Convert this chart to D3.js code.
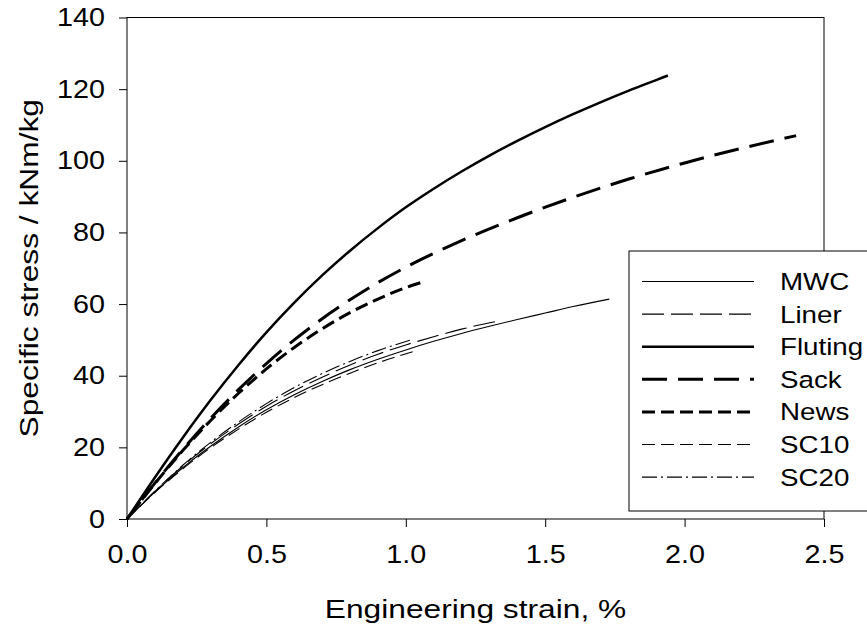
<!DOCTYPE html>
<html lang="en">
<head>
<meta charset="utf-8">
<title>Specific stress vs engineering strain</title>
<style>
    body { margin: 0; background: #fff; font-family: "Liberation Sans", Arial, sans-serif; }
    svg text { font-family: "Liberation Sans", Arial, sans-serif; fill: #000; }
</style>
<script src="https://d3js.org/d3.v7.min.js"></script>
</head>
<body>
<div class="chart"></div>
<script>
// values (strain in %, stress in kNm/kg)
const seriesNames = ["MWC", "Liner", "Fluting", "Sack", "News", "SC10", "SC20"];

const mwcStrain = [0, 0.1, 0.2, 0.3, 0.4, 0.5, 0.6, 0.7, 0.8, 0.9, 1.0, 1.1, 1.2, 1.3, 1.4, 1.5, 1.6, 1.73];
const mwcStress = [0, 7.5, 14.3, 20.3, 25.7, 30.5, 34.7, 38.4, 41.7, 44.6, 47.2, 49.6, 51.8, 53.8, 55.7, 57.5, 59.3, 61.4];

const linerStrain = [0, 0.1, 0.2, 0.3, 0.4, 0.5, 0.6, 0.7, 0.8, 0.9, 1.0, 1.1, 1.2, 1.34];
const linerStress = [0, 7.7, 14.8, 21.0, 26.5, 31.5, 35.8, 39.6, 43.0, 46.0, 48.6, 50.9, 53.0, 55.4];

const flutingStrain = [0, 0.1, 0.2, 0.3, 0.4, 0.5, 0.6, 0.7, 0.8, 0.9, 1.0, 1.1, 1.2, 1.3, 1.4, 1.5, 1.6, 1.7, 1.8, 1.9, 1.94];
const flutingStress = [0, 11.6, 22.7, 33.2, 43.0, 52.1, 60.4, 68.0, 74.9, 81.2, 87.0, 92.2, 97.0, 101.45, 105.55, 109.4, 113.0, 116.4, 119.6, 122.6, 123.8];

const sackStrain = [0, 0.1, 0.2, 0.3, 0.4, 0.5, 0.6, 0.7, 0.8, 0.9, 1.0, 1.2, 1.4, 1.6, 1.8, 2.0, 2.2, 2.4];
const sackStress = [0, 10.0, 19.4, 28.1, 36.1, 43.4, 50.0, 55.9, 61.2, 66.0, 70.3, 77.7, 84.1, 89.8, 94.9, 99.4, 103.4, 107.0];

const newsStrain = [0, 0.1, 0.2, 0.3, 0.4, 0.5, 0.6, 0.7, 0.8, 0.9, 1.0, 1.054];
const newsStress = [0, 9.9, 19.1, 27.5, 35.1, 41.9, 47.9, 53.1, 57.6, 61.4, 64.6, 66.0];

const sc10Strain = [0, 0.1, 0.2, 0.3, 0.4, 0.5, 0.6, 0.7, 0.8, 0.9, 1.03];
const sc10Stress = [0, 7.4, 14.0, 19.9, 25.1, 29.8, 33.9, 37.5, 40.7, 43.6, 46.8];

const sc20Strain = [0, 0.1, 0.2, 0.3, 0.4, 0.5, 0.6, 0.7, 0.8, 0.9, 1.02];
const sc20Stress = [0, 7.8, 15.0, 21.4, 27.1, 32.2, 36.7, 40.6, 44.0, 47.0, 50.0];

const xTicks = [0, 0.5, 1.0, 1.5, 2.0, 2.5];
const yTicks = [0, 20, 40, 60, 80, 100, 120, 140];

const strains = [mwcStrain, linerStrain, flutingStrain, sackStrain, newsStrain, sc10Strain, sc20Strain];
const stresses = [mwcStress, linerStress, flutingStress, sackStress, newsStress, sc10Stress, sc20Stress];

// line styles per series: stroke width and dash pattern
const styles = {
    "MWC":     { w: 1.1, dash: null },
    "Liner":   { w: 1.1, dash: [22, 7] },
    "Fluting": { w: 2.5, dash: null },
    "Sack":    { w: 3,   dash: [25, 11] },
    "News":    { w: 3,   dash: [13, 6] },
    "SC10":    { w: 1.1, dash: [13, 6] },
    "SC20":    { w: 1.1, dash: [15, 4, 2, 4] }
};

const series = seriesNames.map((name, i) => ({
    name: name,
    points: strains[i].map((s, j) => ({ x: s, y: stresses[i][j] }))
}));

const width = 867, height = 624;
const plotLeft = 127, plotRight = 824, plotTop = 17.5, plotBottom = 519;

// the original figure's text is a bit wider than plain Arial
const tickStretch = 1.15, legendStretch = 1.18, titleStretch = 1.22;

const svg = d3.select(".chart")
    .append("svg")
    .attr("width", width)
    .attr("height", height);

const x = d3.scaleLinear().domain([0, 2.5]).range([plotLeft, plotRight]);
const y = d3.scaleLinear().domain([0, 140]).range([plotBottom, plotTop]);

// frame
svg.append("rect")
    .attr("x", plotLeft)
    .attr("y", plotTop)
    .attr("width", plotRight - plotLeft)
    .attr("height", plotBottom - plotTop)
    .attr("fill", "none")
    .attr("stroke", "#000")
    .attr("stroke-width", 1);

const xAxis = svg.append("g")
    .attr("transform", `translate(0,${plotBottom})`)
    .call(d3.axisBottom(x).tickValues(xTicks).tickSize(8).tickPadding(18).tickFormat(d3.format(".1f")));

const yAxis = svg.append("g")
    .attr("transform", `translate(${plotLeft},0)`)
    .call(d3.axisLeft(y).tickValues(yTicks).tickSize(8).tickPadding(14).tickFormat(d3.format("d")));

[xAxis, yAxis].forEach(g => {
    g.select(".domain").remove();
    g.selectAll(".tick line").attr("stroke", "#000");
    g.selectAll(".tick text")
        .attr("font-size", 25)
        .attr("font-family", null)
        .attr("transform", `scale(${tickStretch},1)`);
});
yAxis.selectAll(".tick text").attr("x", -22 / tickStretch);

// curves
const line = d3.line()
    .x(d => x(d.x))
    .y(d => y(d.y))
    .curve(d3.curveMonotoneX);

const dashStr = d => styles[d.name].dash ? styles[d.name].dash.join(",") : null;

svg.selectAll(".curve")
    .data(series)
    .enter()
    .append("path")
    .attr("class", "curve")
    .attr("d", d => line(d.points))
    .attr("fill", "none")
    .attr("stroke", "#000")
    .attr("stroke-width", d => styles[d.name].w)
    .attr("stroke-dasharray", dashStr)
    .each(function(d) {
        // shift the dash pattern so each curve ends inside a dash
        const dash = styles[d.name].dash;
        if (!dash) return;
        const period = d3.sum(dash);
        const len = this.getTotalLength();
        const offset = ((dash[0] - 1 - len) % period + period) % period;
        d3.select(this).attr("stroke-dashoffset", -offset);
    });

// axis titles
svg.append("text")
    .attr("transform", `translate(${(plotLeft + plotRight) / 2},618) scale(${titleStretch},1)`)
    .attr("text-anchor", "middle")
    .attr("font-size", 26)
    .text("Engineering strain, %");

svg.append("text")
    .attr("transform", `translate(38,${(plotTop + plotBottom) / 2}) rotate(-90) scale(${titleStretch},1)`)
    .attr("text-anchor", "middle")
    .attr("font-size", 26)
    .text("Specific stress / kNm/kg");

// legend
const legend = svg.append("g");
legend.append("rect")
    .attr("x", 629)
    .attr("y", 251)
    .attr("width", 260)
    .attr("height", 260)
    .attr("fill", "#fff")
    .attr("stroke", "#000");

const rows = legend.selectAll(".row")
    .data(series)
    .enter()
    .append("g")
    .attr("class", "row")
    .attr("transform", (d, i) => `translate(0,${281.5 + i * 32.6})`);

rows.append("line")
    .attr("x1", 642)
    .attr("x2", 754)
    .attr("stroke", "#000")
    .attr("stroke-width", d => styles[d.name].w)
    .attr("stroke-dasharray", dashStr);

rows.append("text")
    .attr("transform", `translate(780,0) scale(${legendStretch},1)`)
    .attr("dy", "0.36em")
    .attr("font-size", 23.5)
    .text(d => d.name);
</script>
</body>
</html>
